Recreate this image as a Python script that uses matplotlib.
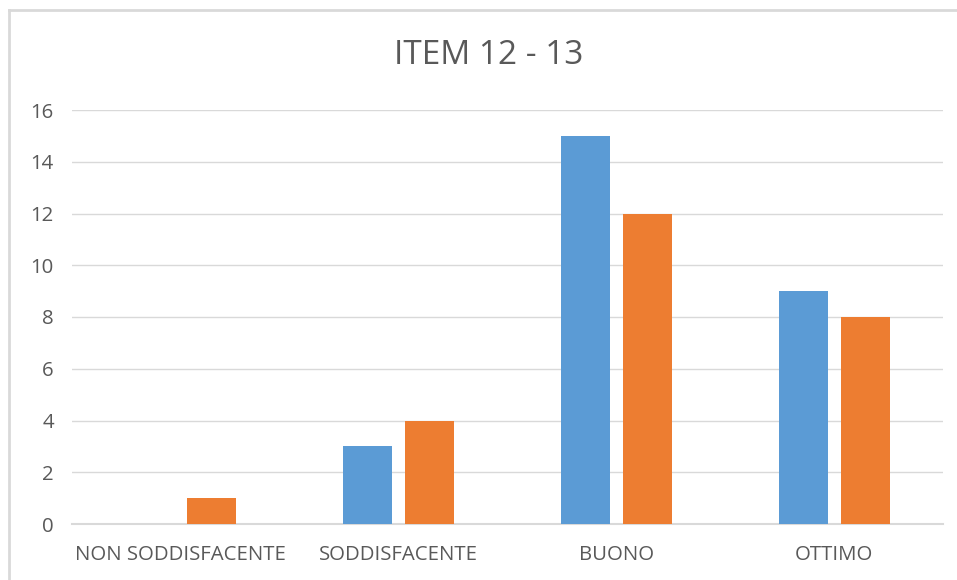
import matplotlib
matplotlib.use("Agg")
import matplotlib.pyplot as plt
from matplotlib.lines import Line2D
import numpy as np

categories = ["NON SODDISFACENTE", "SODDISFACENTE", "BUONO", "OTTIMO"]
item12 = [0, 3, 15, 9]
item13 = [1, 4, 12, 8]
yticks = [0, 2, 4, 6, 8, 10, 12, 14, 16]
title = "ITEM 12 - 13"

plt.rcParams['font.family'] = ['Open Sans', 'DejaVu Sans']
txt = "#595959"

fig = plt.figure(figsize=(9.57, 5.8), dpi=100)
ax = fig.add_axes([72/957, 1-524/580, 871/957, 414/580])

x = np.arange(len(categories))
w = 0.225
off = 0.142
ax.bar(x - off, item12, width=w, color="#5B9BD5", zorder=3)
ax.bar(x + off, item13, width=w, color="#ED7D31", zorder=3)

ax.set_xlim(-0.5, len(categories) - 0.5)
ax.set_ylim(0, 16)
ax.set_yticks(yticks)
ax.set_xticks(x)
ax.set_xticklabels(categories)
ax.grid(axis="y", color="#d9d9d9", linewidth=1.0, zorder=0)
for s in ["top", "right", "left"]:
    ax.spines[s].set_visible(False)
ax.spines["bottom"].set_color("#d9d9d9")
ax.spines["bottom"].set_linewidth(1.5)
ax.tick_params(axis="both", length=0, colors=txt, labelsize=14.7)
ax.tick_params(axis="y", pad=13)
ax.tick_params(axis="x", pad=15)

fig.text(489/957, 1-55/580, title, ha="center", va="center", fontsize=24, color=txt)

fig.add_artist(Line2D([9/957, 1.0], [1-10/580, 1-10/580], color="#d9d9d9", linewidth=2, transform=fig.transFigure))
fig.add_artist(Line2D([9/957, 9/957], [0, 1-10/580], color="#d9d9d9", linewidth=2, transform=fig.transFigure))

fig.savefig("out.png", dpi=100)
